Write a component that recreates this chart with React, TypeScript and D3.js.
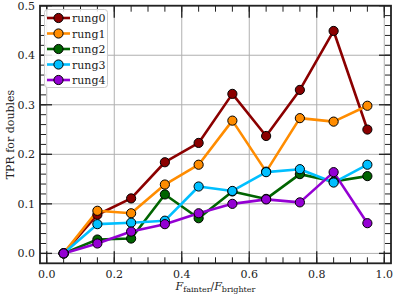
import React from "react";
import * as d3 from "d3";

const xValues = [0.05, 0.15, 0.25, 0.35, 0.45, 0.55, 0.65, 0.75, 0.85, 0.95];
const seriesNames = ["rung0", "rung1", "rung2", "rung3", "rung4"];
const seriesColors = ["#8b0000", "#ff8c00", "#006400", "#00bfff", "#9400d3"];
const rung0 = [0.0, 0.078, 0.111, 0.184, 0.223, 0.322, 0.237, 0.33, 0.449, 0.25];
const rung1 = [0.0, 0.086, 0.081, 0.139, 0.179, 0.268, 0.165, 0.273, 0.266, 0.298];
const rung2 = [0.0, 0.028, 0.03, 0.119, 0.071, 0.125, 0.11, 0.16, 0.145, 0.156];
const rung3 = [0.0, 0.059, 0.062, 0.066, 0.135, 0.126, 0.164, 0.17, 0.143, 0.179];
const rung4 = [0.0, 0.02, 0.044, 0.059, 0.081, 0.1, 0.109, 0.103, 0.164, 0.061];
const seriesValues = [rung0, rung1, rung2, rung3, rung4];
const xTicks = [0.0, 0.2, 0.4, 0.6, 0.8, 1.0];
const yTicks = [0.0, 0.1, 0.2, 0.3, 0.4, 0.5];

export default function App() {
  const W = 399, H = 299;
  const left = 40, right = 391, top = 5.7, bottom = 263.3;
  const x = d3.scaleLinear().domain([-0.02, 1.02]).range([left, right]);
  const y = d3.scaleLinear().domain([-0.02, 0.5]).range([bottom, top]);
  const line = d3.line<number>().x((_, i) => x(xValues[i])).y((v) => y(v));
  const xMinor = d3.range(0, 1.0001, 0.05);
  const yMinor = d3.range(0, 0.5001, 0.02);
  const font = "DejaVu Serif";
  const majorLen = 12, minorLen = 6;
  const tickCol = "#222";

  return (
    <div style={{ position: "absolute", left: 0, top: 0 }}>
      <svg width={W} height={H} style={{ display: "block", background: "white" }} fontFamily={font}>
        {/* grid */}
        {xTicks.map((t) => (
          <line key={"gx" + t} x1={x(t)} x2={x(t)} y1={top} y2={bottom} stroke="#b0b0b0" strokeWidth={1} />
        ))}
        {yTicks.map((t) => (
          <line key={"gy" + t} x1={left} x2={right} y1={y(t)} y2={y(t)} stroke="#b0b0b0" strokeWidth={1} />
        ))}
        {/* series */}
        {seriesValues.map((vals, si) => (
          <g key={si}>
            <path d={line(vals) || ""} fill="none" stroke={seriesColors[si]} strokeWidth={2.6} strokeLinejoin="round" />
          </g>
        ))}
        {seriesValues.map((vals, si) => (
          <g key={"m" + si}>
            {vals.map((v, i) => (
              <circle key={i} cx={x(xValues[i])} cy={y(v)} r={4.6} fill={seriesColors[si]} stroke="#000" strokeWidth={1} />
            ))}
          </g>
        ))}
        {/* ticks */}
        {xMinor.map((t) => (
          <g key={"xm" + t}>
            <line x1={x(t)} x2={x(t)} y1={bottom} y2={bottom - minorLen} stroke={tickCol} strokeWidth={1} />
            <line x1={x(t)} x2={x(t)} y1={top} y2={top + minorLen} stroke={tickCol} strokeWidth={1} />
          </g>
        ))}
        {xTicks.map((t) => (
          <g key={"xM" + t}>
            <line x1={x(t)} x2={x(t)} y1={bottom} y2={bottom - majorLen} stroke={tickCol} strokeWidth={1.3} />
            <line x1={x(t)} x2={x(t)} y1={top} y2={top + majorLen} stroke={tickCol} strokeWidth={1.3} />
            <text x={x(t)} y={bottom + 15} textAnchor="middle" fontSize={11} fill="#222">
              {d3.format(".1f")(t)}
            </text>
          </g>
        ))}
        {yMinor.map((t) => (
          <g key={"ym" + t}>
            <line x1={left} x2={left + minorLen} y1={y(t)} y2={y(t)} stroke={tickCol} strokeWidth={1} />
            <line x1={right} x2={right - minorLen} y1={y(t)} y2={y(t)} stroke={tickCol} strokeWidth={1} />
          </g>
        ))}
        {yTicks.map((t) => (
          <g key={"yM" + t}>
            <line x1={left} x2={left + majorLen} y1={y(t)} y2={y(t)} stroke={tickCol} strokeWidth={1.3} />
            <line x1={right} x2={right - majorLen} y1={y(t)} y2={y(t)} stroke={tickCol} strokeWidth={1.3} />
            <text x={left - 5} y={y(t) + 4} textAnchor="end" fontSize={11} fill="#222">
              {d3.format(".1f")(t)}
            </text>
          </g>
        ))}
        {/* frame */}
        <rect x={left} y={top} width={right - left} height={bottom - top} fill="none" stroke="#222" strokeWidth={1.8} />
        {/* legend */}
        <rect x={44.5} y={9.5} width={63} height={78} rx={3} fill="white" fillOpacity={0.85} stroke="#ccc" strokeWidth={1} />
        {seriesNames.map((n, i) => {
          const ly = 18 + i * 15.5;
          return (
            <g key={"l" + n}>
              <line x1={47} x2={70} y1={ly} y2={ly} stroke={seriesColors[i]} strokeWidth={2.6} />
              <circle cx={58.5} cy={ly} r={4.6} fill={seriesColors[i]} stroke="#000" strokeWidth={1} />
              <text x={72} y={ly + 4} fontSize={11} fill="#222">{n}</text>
            </g>
          );
        })}
        {/* axis labels */}
        <text transform={`translate(14,${(top + bottom) / 2}) rotate(-90)`} textAnchor="middle" fontSize={11} fill="#222">
          TPR for doubles
        </text>
        <text x={(left + right) / 2} y={290} textAnchor="middle" fontSize={11} fill="#222">
          <tspan fontStyle="italic">F</tspan>
          <tspan fontSize={8} dy={2}>fainter</tspan>
          <tspan dy={-2}>/</tspan>
          <tspan fontStyle="italic">F</tspan>
          <tspan fontSize={8} dy={2}>brighter</tspan>
        </text>
      </svg>
    </div>
  );
}
